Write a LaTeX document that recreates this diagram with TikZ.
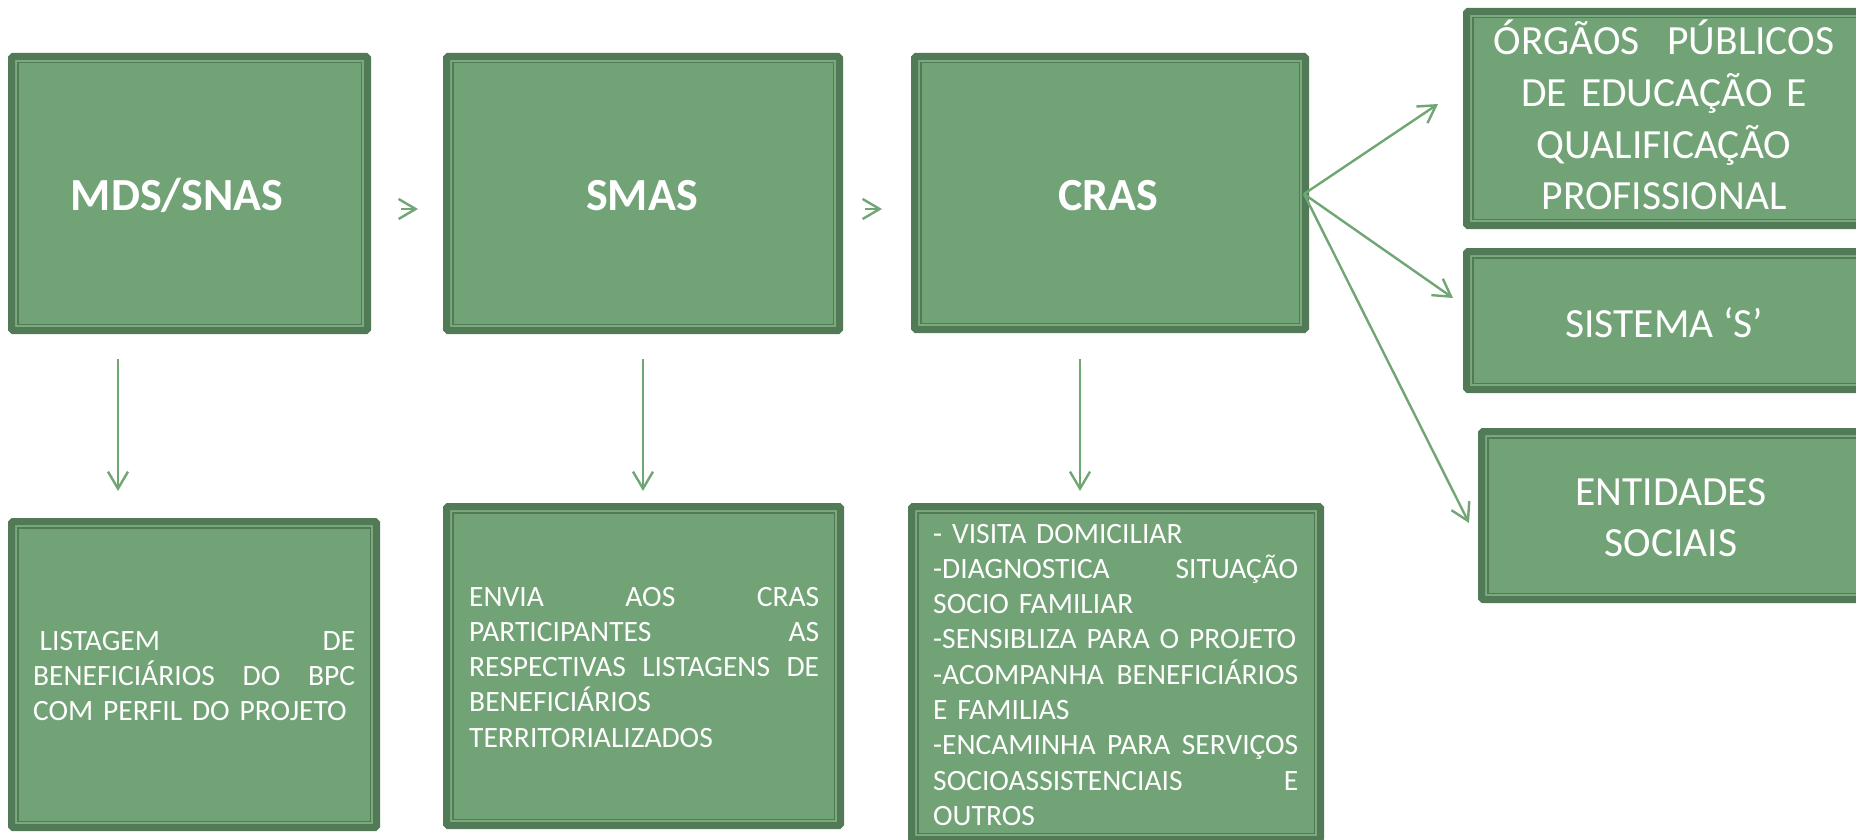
\documentclass[tikz,border=0pt]{standalone}
\usepackage{fontspec}
\setmainfont{Carlito}
\usetikzlibrary{arrows.meta}
\definecolor{gfill}{RGB}{114,163,118}
\definecolor{gdark}{RGB}{82,122,86}
\definecolor{glight}{RGB}{122,171,126}
\definecolor{garrow}{RGB}{112,165,116}
% justified line of a given width: words separated by \hfill
\newcommand\jl[2]{\leavevmode\hbox to #1{#2}}
\begin{document}
\begin{tikzpicture}[x=1pt,y=-1pt,
  gbox/.style={draw=gdark, line width=7pt, fill=gfill, rounded corners=1.5pt, inner sep=0pt,
    path picture={
      \draw[glight, line width=2pt, sharp corners]
        ([shift={(4.6pt,4.6pt)}]path picture bounding box.south west) rectangle
        ([shift={(-4.6pt,-4.6pt)}]path picture bounding box.north east);
      \draw[gdark, line width=1.4pt, sharp corners]
        ([shift={(6.3pt,6.3pt)}]path picture bounding box.south west) rectangle
        ([shift={(-6.3pt,-6.3pt)}]path picture bounding box.north east);}},
  txtbig/.style={text=white, inner sep=0pt, font=\bfseries\fontsize{46pt}{55pt}\selectfont},
  txtmid/.style={text=white, inner sep=0pt, font=\fontsize{41.5pt}{51.6pt}\selectfont},
  txtsm/.style={text=white, inner sep=0pt, font=\fontsize{29.5pt}{35.3pt}\selectfont},
  arr/.style={draw=garrow, line width=2.4pt, -{Straight Barb[length=17pt,width=20pt,line width=2.4pt]}}
]
\useasboundingbox (0,0) rectangle (1856,840);

% top row boxes
\node[gbox, minimum width=356pt, minimum height=274pt] (mds) at (189.5,193.5) {};
\node[gbox, minimum width=393pt, minimum height=274pt] (smas) at (643,193.5) {};
\node[gbox, minimum width=391pt, minimum height=273pt] (cras) at (1110,193) {};

% right column boxes
\node[gbox, minimum width=396pt, minimum height=214pt] (org) at (1664.5,118.5) {};
\node[gbox, minimum width=396pt, minimum height=138pt] (sis) at (1664.5,320.5) {};
\node[gbox, minimum width=381pt, minimum height=168pt] (ent) at (1672,515.5) {};

% bottom row boxes
\node[gbox, minimum width=365pt, minimum height=306pt] (lis) at (194,674.5) {};
\node[gbox, minimum width=394pt, minimum height=319pt] (env) at (643.5,666) {};
\node[gbox, minimum width=409pt, minimum height=333pt] (acts) at (1116,673) {};

% texts
\node[txtbig, anchor=base] (mds-t) at (177,210) {MDS/SNAS};
\node[txtbig, anchor=base] (smas-t) at (642,210) {SMAS};
\node[txtbig, anchor=base] (cras-t) at (1108,210) {CRAS};

\node[txtmid, anchor=base, text width=400pt, align=center] (org-t) at (1664,55)
  {ÓRGÃOS\ \ PÚBLICOS\\DE EDUCAÇÃO E\\QUALIFICAÇÃO\\PROFISSIONAL};
\node[txtmid, anchor=base] (sis-t) at (1664,337) {SISTEMA ‘S’};
\node[txtmid, anchor=base, text width=380pt, align=center] (ent-t) at (1671,505)
  {ENTIDADES\\SOCIAIS};

\node[txtsm, anchor=base west, text width=322pt, align=left] (lis-t) at (33,650)
  {\jl{322pt}{\hspace*{6.5pt}LISTAGEM\hfill DE}\\
   \jl{322pt}{BENEFICIÁRIOS\hfill DO\hfill BPC}\\
   COM PERFIL DO PROJETO};
\node[txtsm, anchor=base west, text width=350pt, align=left] (env-t) at (469,606)
  {\jl{350pt}{ENVIA\hfill AOS\hfill CRAS}\\
   \jl{350pt}{PARTICIPANTES\hfill AS}\\
   \jl{350pt}{RESPECTIVAS\hfill LISTAGENS\hfill DE}\\
   BENEFICIÁRIOS\\
   TERRITORIALIZADOS};
\node[txtsm, anchor=base west, text width=365pt, align=left] (acts-t) at (933,543)
  {- VISITA DOMICILIAR\\
   \jl{365pt}{-DIAGNOSTICA\hfill SITUAÇÃO}\\
   SOCIO FAMILIAR\\
   -SENSIBLIZA PARA O PROJETO\\
   \jl{365pt}{-ACOMPANHA\hfill BENEFICIÁRIOS}\\
   E FAMILIAS\\
   \jl{365pt}{-ENCAMINHA\hfill PARA\hfill SERVIÇOS}\\
   \jl{365pt}{SOCIOASSISTENCIAIS\hfill E}\\
   OUTROS};

% connector end points
\coordinate (h1a) at (401,209);
\coordinate (h1b) at (418,209);
\coordinate (h2a) at (865,209);
\coordinate (h2b) at (882,209);
\coordinate (v1a) at (118,359);
\coordinate (v1b) at (118,491);
\coordinate (v2a) at (643,359);
\coordinate (v2b) at (643,491);
\coordinate (v3a) at (1080,359);
\coordinate (v3b) at (1080,491);
\coordinate (d0) at (1304,194);
\coordinate (d1) at (1438,104);
\coordinate (d2) at (1453,298);
\coordinate (d3) at (1469,523);

% connectors
\draw[arr] (h1a) -- (h1b);
\draw[arr] (h2a) -- (h2b);
\draw[arr] (v1a) -- (v1b);
\draw[arr] (v2a) -- (v2b);
\draw[arr] (v3a) -- (v3b);
\draw[arr] (d0) -- (d1);
\draw[arr] (d0) -- (d2);
\draw[arr] (d0) -- (d3);
\end{tikzpicture}
\end{document}
